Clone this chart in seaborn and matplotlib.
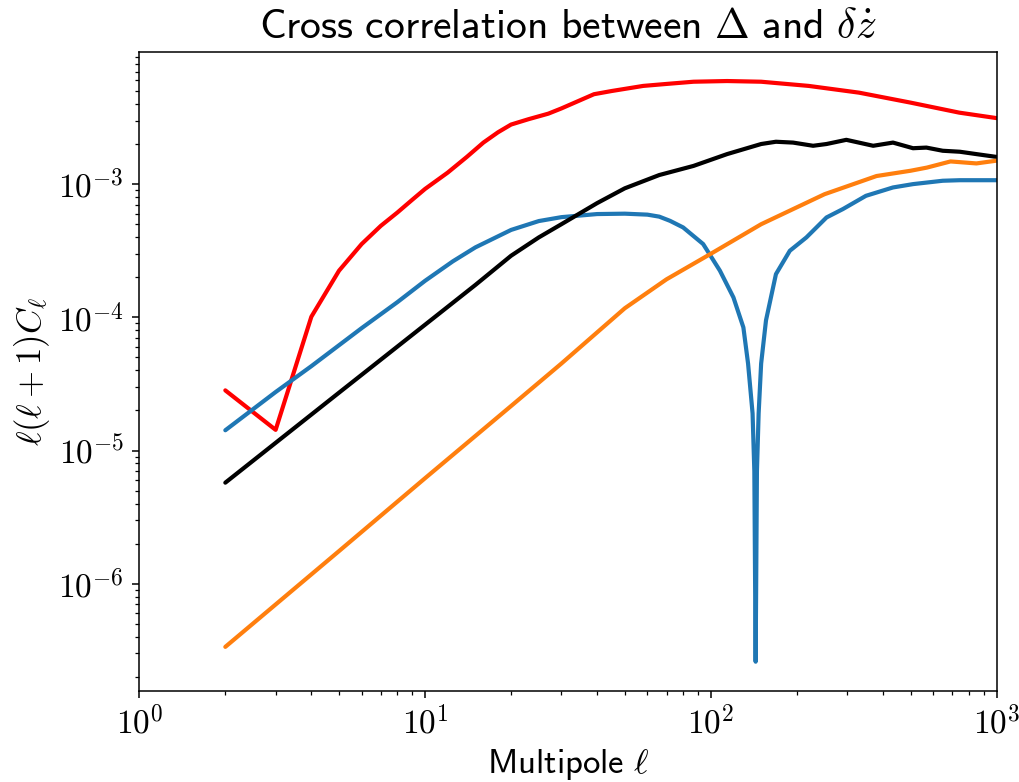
import numpy as np
import pandas as pd
import matplotlib
matplotlib.use("Agg")
import matplotlib.pyplot as plt
import seaborn as sns
from matplotlib.ticker import FuncFormatter, NullFormatter, LogLocator

# ---- data ----
red_ell = [2, 3, 4, 5, 6, 7, 8, 9, 10, 12, 14, 16, 18, 20, 23, 27, 30, 39, 45,
           58, 70, 87, 114, 150, 220, 330, 500, 740, 1000]
red_cl = [2.83e-5, 1.43e-5, 1.01e-4, 2.24e-4, 3.55e-4, 4.86e-4, 6.12e-4, 7.6e-4,
          9.2e-4, 1.22e-3, 1.6e-3, 2.05e-3, 2.45e-3, 2.8e-3, 3.07e-3, 3.38e-3,
          3.7e-3, 4.73e-3, 5.0e-3, 5.46e-3, 5.65e-3, 5.87e-3, 5.94e-3, 5.87e-3,
          5.46e-3, 4.86e-3, 4.09e-3, 3.44e-3, 3.13e-3]

blue_ell = [2, 3, 4, 6, 8, 10, 12.5, 15, 20, 25, 30, 40, 50, 60, 66, 72, 80, 94,
            107.6, 120, 130, 135, 140, 142, 143.5, 145, 147, 150, 156, 169, 189,
            216, 254, 290, 349, 434, 510, 648, 744, 1000]
blue_cl = [1.42e-5, 2.75e-5, 4.3e-5, 8.3e-5, 1.3e-4, 1.88e-4, 2.63e-4, 3.35e-4,
           4.53e-4, 5.28e-4, 5.65e-4, 5.96e-4, 6.0e-4, 5.9e-4, 5.7e-4, 5.3e-4,
           4.73e-4, 3.55e-4, 2.24e-4, 1.41e-4, 8.4e-5, 4.5e-5, 1.9e-5, 7e-6,
           2.6e-7, 7e-6, 1.9e-5, 4.5e-5, 9.5e-5, 2.11e-4, 3.16e-4, 3.98e-4,
           5.62e-4, 6.5e-4, 8.17e-4, 9.44e-4, 1.0e-3, 1.06e-3, 1.07e-3, 1.07e-3]

black_ell = [2, 5, 10, 15, 20, 25, 30, 40, 50, 66, 87, 114, 150, 169, 194, 228,
             254, 298, 370, 434, 510, 568, 648, 744, 850, 1000]
black_cl = [5.74e-6, 2.72e-5, 8.8e-5, 1.75e-4, 2.9e-4, 3.98e-4, 5.0e-4, 7.2e-4,
            9.3e-4, 1.17e-3, 1.37e-3, 1.68e-3, 2.0e-3, 2.08e-3, 2.05e-3, 1.94e-3,
            2.0e-3, 2.15e-3, 1.94e-3, 2.05e-3, 1.86e-3, 1.88e-3, 1.78e-3, 1.75e-3,
            1.68e-3, 1.6e-3]

orange_ell = [2, 5, 10, 20, 30, 50, 70, 100, 150, 250, 380, 500, 570, 690, 850,
              1000]
orange_cl = [3.36e-7, 1.76e-6, 6.2e-6, 2.16e-5, 4.5e-5, 1.17e-4, 1.93e-4, 3.0e-4,
             5.0e-4, 8.4e-4, 1.15e-3, 1.26e-3, 1.33e-3, 1.48e-3, 1.43e-3, 1.5e-3]

title_text = r"$\mathsf{Cross\ correlation\ between\ }\Delta\mathsf{\ and\ }\delta\dot{z}$"
xlabel_text = r"$\mathsf{Multipole}\ \ell$"
ylabel_text = r"$\ell(\ell+1)C_\ell$"

# ---- style ----
sns.set_theme(style="ticks")
plt.rcParams.update({
    "mathtext.fontset": "cm",
    "text.color": "black",
    "axes.labelcolor": "black",
    "axes.edgecolor": "black",
    "axes.linewidth": 1.1,
    "xtick.color": "black",
    "ytick.color": "black",
    "xtick.labelcolor": "black",
    "ytick.labelcolor": "black",
    "xtick.direction": "out",
    "ytick.direction": "out",
    "xtick.major.size": 5,
    "ytick.major.size": 5,
    "xtick.minor.size": 3,
    "ytick.minor.size": 3,
    "xtick.major.width": 1.1,
    "ytick.major.width": 1.1,
    "xtick.minor.width": 0.9,
    "ytick.minor.width": 0.9,
    "axes.grid": False,
})
plt.rcParams["font.family"] = ["DejaVu Sans"]

fig = plt.figure(figsize=(10.19, 7.82), dpi=100)
ax = fig.add_axes([0.1367, 0.1167, 0.8413, 0.8168])
ax.set_xscale("log")
ax.set_yscale("log")

lw = 3.0
sns.lineplot(x=red_ell, y=red_cl, ax=ax, color="red", lw=lw, sort=False)
sns.lineplot(x=blue_ell, y=blue_cl, ax=ax, color="#1f77b4", lw=lw, sort=False)
sns.lineplot(x=black_ell, y=black_cl, ax=ax, color="black", lw=lw, sort=False)
sns.lineplot(x=orange_ell, y=orange_cl, ax=ax, color="#ff7f0e", lw=lw, sort=False)

ax.set_xlim(1, 1000)
ax.margins(y=0.05)

fmt = FuncFormatter(lambda v, p: r"$10^{%d}$" % int(round(np.log10(v))))
ax.xaxis.set_major_formatter(fmt)
ax.yaxis.set_major_formatter(fmt)
ax.xaxis.set_minor_formatter(NullFormatter())
ax.yaxis.set_minor_formatter(NullFormatter())
ax.xaxis.set_major_locator(LogLocator(base=10, numticks=20))
ax.yaxis.set_major_locator(LogLocator(base=10, numticks=20))
ax.xaxis.set_minor_locator(LogLocator(base=10, subs=np.arange(2, 10), numticks=20))
ax.yaxis.set_minor_locator(LogLocator(base=10, subs=np.arange(2, 10), numticks=20))
ax.tick_params(axis="both", which="major", labelsize=24, pad=6)

ax.set_title(title_text, fontsize=30, pad=10, color="black")
ax.set_xlabel(xlabel_text, fontsize=25, labelpad=4, color="black")
ax.set_ylabel(ylabel_text, fontsize=25, labelpad=4, color="black")

fig.savefig("out.png", dpi=100)
